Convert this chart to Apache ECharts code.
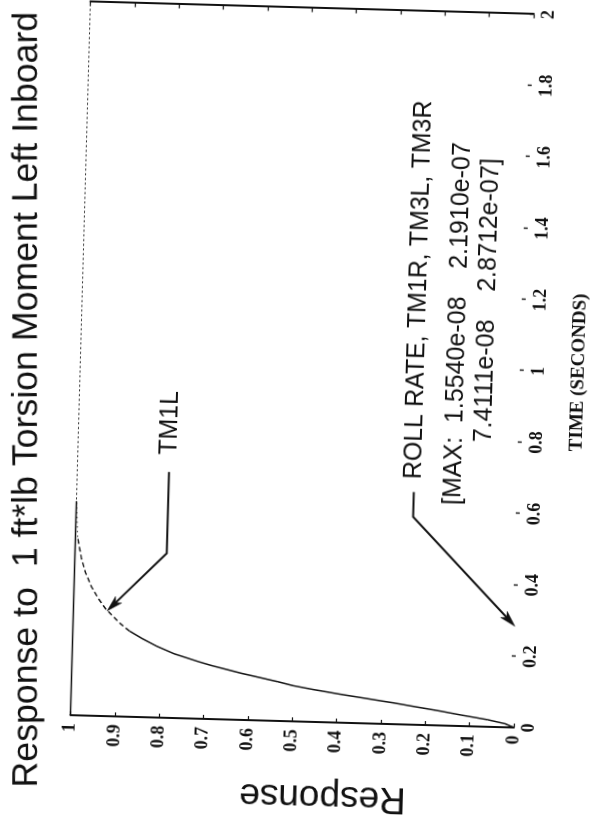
<!DOCTYPE html>
<html>
<head>
<meta charset="utf-8">
<title>Response to 1 ft*lb Torsion Moment Left Inboard</title>
<script src="https://cdn.jsdelivr.net/npm/echarts@6/dist/echarts.min.js"></script>
<style>
html, body { margin:0; padding:0; background:#fff; width:603px; height:824px; overflow:hidden; }
#chart { position:absolute; left:-110.5px; top:110.5px; width:824px; height:603px;
  transform-origin:412px 301.5px; transform:rotate(-88.4deg); }
</style>
</head>
<body>
<div id="chart"></div>
<script>
// ---------------- data ----------------
const timeSec = [0, 0.01, 0.02, 0.03, 0.04, 0.05, 0.06, 0.07, 0.08, 0.09, 0.10, 0.11, 0.12, 0.13, 0.14, 0.15, 0.16, 0.18, 0.20, 0.22, 0.24, 0.26, 0.28, 0.30, 0.33, 0.36, 0.40, 0.44, 0.48, 0.50, 0.52, 0.56, 0.60, 0.70, 0.80, 1.0, 1.2, 1.4, 1.6, 1.8, 2.0];
const tm1l    = [0, 0.02, 0.06, 0.115, 0.165, 0.22, 0.275, 0.335, 0.395, 0.45, 0.50, 0.535, 0.575, 0.615, 0.65, 0.685, 0.715, 0.77, 0.81, 0.843, 0.872, 0.893, 0.91, 0.927, 0.945, 0.96, 0.975, 0.985, 0.992, 0.995, 0.996, 0.998, 1.0, 1.0, 1.0, 1.0, 1.0, 1.0, 1.0, 1.0, 1.0];
const timeTicks = [0, 2, 0.2];        // min, max, interval
const responseTicks = [0, 1, 0.1];    // min, max, interval
const titleText = 'Response to  1 ft*lb Torsion Moment Left Inboard';
const timeName = 'TIME (SECONDS)';
const responseName = 'Response';
const tm1lLabel = 'TM1L';
const smallSignals = ['ROLL RATE', 'TM1R', 'TM3L', 'TM3R'];
const smallSignalMax = ['1.5540e-08', '2.1910e-07', '7.4111e-08', '2.8712e-07'];
const lineStyleBreaks = [0.24, 0.5];  // solid | dashed | dotted (scan appearance)

// ---------------- chart ----------------
const ink = '#111';
const serif = '"Liberation Serif", "Times New Roman", serif';
const narrow = '"Liberation Sans Narrow", "Arial Narrow", "Liberation Sans", Arial, sans-serif';
const sans = '"Liberation Sans", Arial, Helvetica, sans-serif';
const skew = 1.6 * Math.PI / 180;

const chart = echarts.init(document.getElementById('chart'), null, {width: 824, height: 603});
const pts = timeSec.map((t, i) => [t, tm1l[i]]);
const seg = (a, b) => pts.filter(p => p[0] >= a && p[0] <= b);

const tickLabel = {color: ink, fontFamily: serif, fontSize: 18, fontWeight: 'bold'};

chart.setOption({
  animation: false,
  backgroundColor: '#fff',
  grid: {left: 103, right: 3, top: 78.5, bottom: 81},
  xAxis: [{
    type: 'value', min: timeTicks[0], max: timeTicks[1], interval: timeTicks[2],
    position: 'bottom',
    name: timeName, nameLocation: 'middle', nameGap: 46,
    nameTextStyle: {color: ink, fontFamily: serif, fontWeight: 'bold', fontSize: 19},
    axisLine: {show: false},
    axisTick: {show: true, inside: true, length: 4, lineStyle: {color: ink, width: 1.4}},
    axisLabel: Object.assign({margin: 6}, tickLabel),
    splitLine: {show: false}
  }, {
    type: 'value', min: timeTicks[0], max: timeTicks[1], position: 'top',
    axisLine: {show: true, onZero: false, lineStyle: {color: '#333', width: 1.2, type: [1.2, 3.5]}},
    axisTick: {show: false}, axisLabel: {show: false}, splitLine: {show: false}
  }],
  yAxis: [{
    type: 'value', min: responseTicks[0], max: responseTicks[1], interval: responseTicks[2],
    position: 'left',
    axisLine: {show: true, onZero: false, lineStyle: {color: ink, width: 2}},
    axisTick: {show: true, inside: true, length: 4, lineStyle: {color: ink, width: 1.2}},
    axisLabel: Object.assign({margin: 8}, tickLabel),
    splitLine: {show: false}
  }, {
    type: 'value', min: responseTicks[0], max: responseTicks[1], interval: responseTicks[2],
    position: 'right',
    axisLine: {show: true, onZero: false, lineStyle: {color: ink, width: 2}},
    axisTick: {show: true, inside: true, length: 4, lineStyle: {color: ink, width: 1.2}},
    axisLabel: {show: false}, splitLine: {show: false}
  }],
  series: [
    {name: 'TM1L', type: 'line', data: seg(0, lineStyleBreaks[0]), showSymbol: false,
     lineStyle: {color: ink, width: 1.5}},
    {name: 'TM1L', type: 'line', data: seg(lineStyleBreaks[0], lineStyleBreaks[1]), showSymbol: false,
     lineStyle: {color: ink, width: 1.4, type: [5, 3]}},
    {name: 'TM1L', type: 'line', data: seg(lineStyleBreaks[1], timeTicks[1]), showSymbol: false,
     lineStyle: {color: '#333', width: 1.2, type: [1.2, 3.5]},
     // upper frame edge, printed solid near the start in the scan
     markLine: {silent: true, symbol: 'none', label: {show: false},
       lineStyle: {color: ink, width: 1.3, type: 'solid'},
       data: [[{coord: [timeTicks[0], responseTicks[1]]}, {coord: [0.6, responseTicks[1]]}]]}}
  ]
});

// ---------------- annotations (placed through the axes) ----------------
const P = (t, r) => chart.convertToPixel({xAxisIndex: 0, yAxisIndex: 0}, [t, r]);

function arrow(start, elbow, tip) {
  const a = P(...start), b = P(...elbow), c = P(...tip);
  const dx = c[0] - b[0], dy = c[1] - b[1], L = Math.hypot(dx, dy);
  const ux = dx / L, uy = dy / L, nx = -uy, ny = ux, hl = 16, hw = 4.5;
  const bx = c[0] - ux * hl, by = c[1] - uy * hl;
  return [
    {type: 'polyline', shape: {points: [a, b, [c[0] - ux * 6, c[1] - uy * 6]]},
     style: {stroke: ink, lineWidth: 2, fill: null}},
    {type: 'polygon', shape: {points: [c, [bx + nx * hw, by + ny * hw], [bx + ux * 4, by + uy * 4], [bx - nx * hw, by - ny * hw]]},
     style: {fill: ink, stroke: ink, lineWidth: 0.5}}
  ];
}
function label(text, t, r, size, family) {
  const p = P(t, r);
  return {type: 'text', x: p[0], y: p[1],
    style: {text: text, fill: ink, fontSize: size, fontFamily: family || narrow,
            align: 'left', verticalAlign: 'middle', textAlign: 'left', textVerticalAlign: 'middle'}};
}

const rAxisPt = P(0, 0.427);
const graphics = [].concat(
  arrow([0.689, 0.793], [0.461, 0.793], [0.295, 0.924]),
  [label(tm1lLabel, 0.737, 0.793, 25)],
  arrow([0.652, 0.24], [0.5825, 0.24], [0.284, 0.004]),
  [label(smallSignals.join(', '), 0.688, 0.24, 25),
   label('[MAX:  ' + smallSignalMax[0] + '    ' + smallSignalMax[1], 0.619, 0.151, 25),
   label(smallSignalMax[2] + '    ' + smallSignalMax[3] + ']', 0.797, 0.085, 25)],
  [{type: 'text', x: rAxisPt[0] - 74, y: rAxisPt[1], rotation: Math.PI / 2,
    style: {text: responseName, fill: ink, fontSize: 37, fontFamily: narrow,
            align: 'center', verticalAlign: 'middle', textAlign: 'center', textVerticalAlign: 'middle'}},
   {type: 'text', x: 29.5, y: 37.1, rotation: skew,
    style: {text: titleText, fill: ink, fontSize: 35.7, fontFamily: sans,
            align: 'left', verticalAlign: 'middle', textAlign: 'left', textVerticalAlign: 'middle'}}]
);
chart.setOption({graphic: {elements: graphics}});
</script>
</body>
</html>
